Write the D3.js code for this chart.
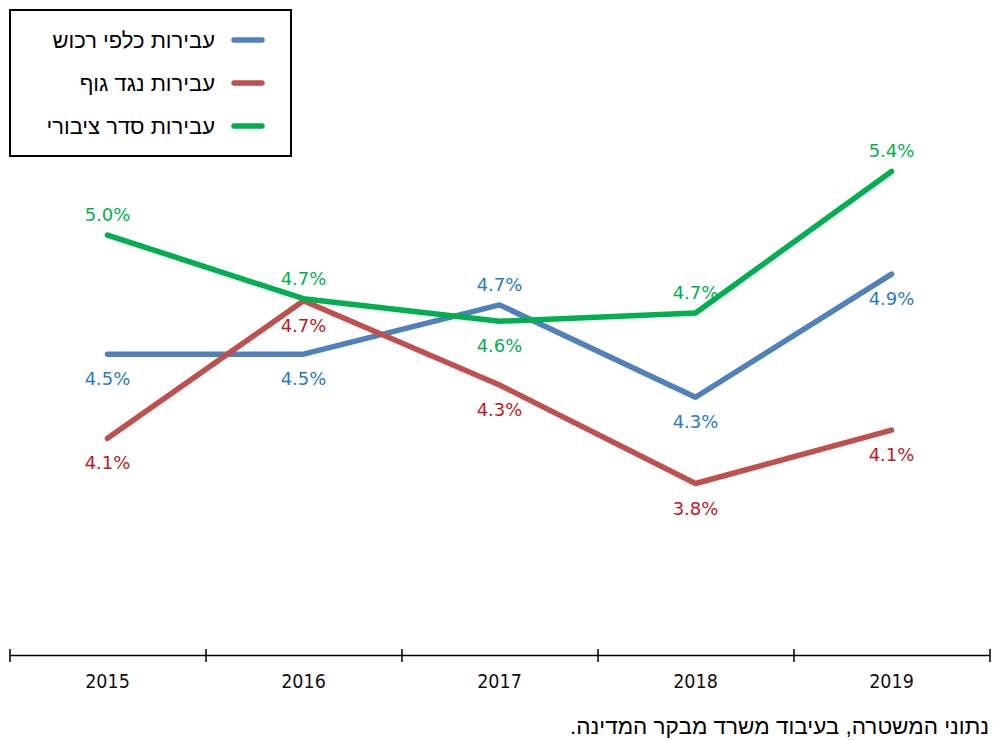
<!DOCTYPE html>
<html lang="he">
<head>
<meta charset="utf-8">
<script src="https://cdnjs.cloudflare.com/ajax/libs/d3/7.8.5/d3.min.js"></script>
<style>
  body { margin: 0; background: #fff; }
  svg { display: block; }
</style>
</head>
<body>
<svg id="chart" width="993" height="740"></svg>
<script>
// data (percent)
const years = ["2015", "2016", "2017", "2018", "2019"];
const property = [4.47, 4.47, 4.71, 4.26, 4.86];
const bodily = [4.06, 4.73, 4.32, 3.84, 4.10];
const publicOrder = [5.05, 4.74, 4.63, 4.67, 5.36];

const seriesNames = ["עבירות כלפי רכוש", "עבירות נגד גוף", "עבירות סדר ציבורי"];
// where each value label sits relative to its point
const propertyLabelPos = ["below", "below", "above", "below", "below"];
const bodilyLabelPos = ["below", "below", "below", "below", "below"];
const publicOrderLabelPos = ["above", "above", "below", "above", "above"];

const sourceNote = "נתוני המשטרה, בעיבוד משרד מבקר המדינה.";

const series = [
  { name: seriesNames[0], values: property, pos: propertyLabelPos, color: "#4F81BD", labelColor: "#2A7AC6" },
  { name: seriesNames[1], values: bodily, pos: bodilyLabelPos, color: "#C0504D", labelColor: "#C4161C" },
  { name: seriesNames[2], values: publicOrder, pos: publicOrderLabelPos, color: "#00B050", labelColor: "#00B050" }
];

const svg = d3.select("#chart");
const axisY = 655.5;

const x = d3.scaleBand().domain(years).range([9.5, 989.5]).padding(0);
const y = d3.scaleLinear().domain([3, 6]).range([656, 40]);
const edges = d3.scaleLinear().domain([0, years.length]).range([9.5, 989.5]);

// x axis: labels centred in each band, ticks on the band edges
svg.append("line")
  .attr("x1", edges(0)).attr("x2", edges(years.length))
  .attr("y1", axisY).attr("y2", axisY)
  .attr("stroke", "#000").attr("stroke-width", 1.5);

svg.append("g")
  .attr("transform", "translate(0," + (axisY - 6.5) + ")")
  .call(d3.axisBottom(edges).tickValues(d3.range(years.length + 1)).tickSize(13).tickFormat(""))
  .call(g => g.select(".domain").remove())
  .call(g => g.selectAll(".tick line").attr("stroke", "#000").attr("stroke-width", 1.5));

svg.append("g")
  .attr("transform", "translate(0," + axisY + ")")
  .call(d3.axisBottom(x).tickSize(0).tickPadding(19))
  .call(g => g.select(".domain").remove())
  .call(g => g.selectAll(".tick text")
    .attr("font-family", "DejaVu Sans Condensed, DejaVu Sans, sans-serif")
    .attr("font-size", 19.5)
    .attr("fill", "#111"));

const line = d3.line()
  .x((d, i) => x(years[i]) + x.bandwidth() / 2)
  .y(d => y(d));

series.forEach(s => {
  svg.append("path")
    .datum(s.values)
    .attr("fill", "none")
    .attr("stroke", s.color)
    .attr("stroke-width", 5.5)
    .attr("stroke-linecap", "round")
    .attr("stroke-linejoin", "round")
    .attr("d", line);
});

series.forEach(s => {
  svg.selectAll(null)
    .data(s.values)
    .enter().append("text")
    .attr("x", (d, i) => x(years[i]) + x.bandwidth() / 2)
    .attr("y", (d, i) => y(d) + (s.pos[i] === "above" ? -14 : 31))
    .attr("text-anchor", "middle")
    .attr("font-family", "DejaVu Sans, sans-serif")
    .attr("font-size", 18)
    .attr("fill", s.labelColor)
    .text(d => d.toFixed(1) + "%");
});

// legend
const legend = svg.append("g");
legend.append("rect")
  .attr("x", 10).attr("y", 10)
  .attr("width", 281).attr("height", 146)
  .attr("fill", "#fff").attr("stroke", "#000").attr("stroke-width", 2);

const legendRows = legend.selectAll(".row")
  .data(series)
  .enter().append("g")
  .attr("class", "row")
  .attr("transform", (d, i) => "translate(0," + (40 + i * 43) + ")");

legendRows.append("line")
  .attr("x1", 234).attr("x2", 262)
  .attr("stroke", d => d.color)
  .attr("stroke-width", 5.5)
  .attr("stroke-linecap", "round");

legendRows.append("text")
  .attr("x", 215).attr("y", 7.5)
  .attr("direction", "rtl")
  .attr("text-anchor", "start")
  .attr("font-family", "Liberation Sans, Arial, sans-serif")
  .attr("font-size", 22)
  .attr("fill", "#000")
  .text(d => d.name);

// source note
svg.append("text")
  .attr("x", 989).attr("y", 734)
  .attr("direction", "rtl")
  .attr("text-anchor", "start")
  .attr("font-family", "Liberation Sans, Arial, sans-serif")
  .attr("font-size", 22.5)
  .attr("fill", "#000")
  .text(sourceNote);
</script>
</body>
</html>
